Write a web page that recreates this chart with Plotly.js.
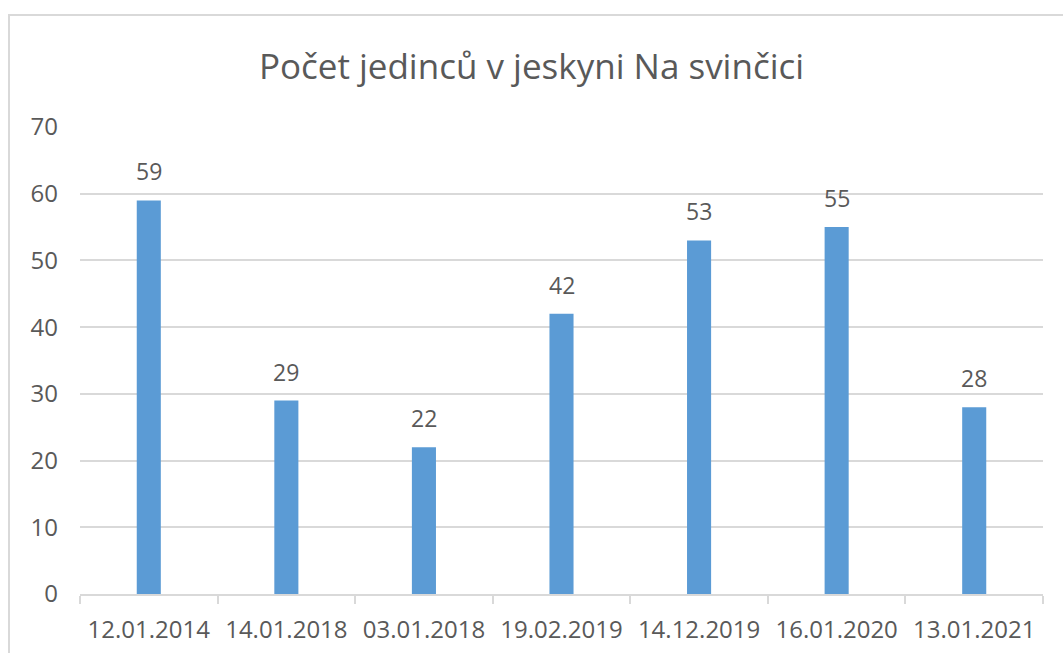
<!DOCTYPE html>
<html>
<head>
<meta charset="utf-8">
<script src="https://cdn.plot.ly/plotly-3.0.1.min.js"></script>
<style>html,body{margin:0;padding:0;background:#fff;}#chart{width:1063px;height:653px;}</style>
</head>
<body>
<div id="chart"></div>
<script>
const titleText = "Počet jedinců v jeskyni Na svinčici";
const dates = ["12.01.2014","14.01.2018","03.01.2018","19.02.2019","14.12.2019","16.01.2020","13.01.2021"];
const counts = [59, 29, 22, 42, 53, 55, 28];
const yTicks = [0, 10, 20, 30, 40, 50, 60, 70];

const FONT = "Open Sans, Noto Sans, sans-serif";
const GRAY = "#595959";
const GRID = "#D9D9D9";

const trace = {
  type: "bar",
  x: dates,
  y: counts,
  marker: {color: "#5B9BD5"},
  hoverinfo: "x+y"
};

const annotations = dates.map((d, i) => ({
  x: d, y: counts[i], xref: "x", yref: "y",
  text: String(counts[i]), showarrow: false,
  yanchor: "bottom", yshift: 11,
  font: {family: FONT, size: 23, color: GRAY}
}));

const layout = {
  width: 1063, height: 653,
  margin: {l: 80, r: 20, t: 127, b: 59},
  paper_bgcolor: "#fff", plot_bgcolor: "#fff",
  title: {text: titleText, font: {family: FONT, size: 35, color: GRAY}, x: 0.5, xanchor: "center", y: 0.898, yanchor: "middle"},
  bargap: 0.825,
  showlegend: false,
  xaxis: {
    type: "category",
    showgrid: false,
    showline: true, linecolor: GRID, linewidth: 2,
    ticks: "outside", tickson: "boundaries", ticklen: 8, tickcolor: GRID, tickwidth: 2,
    tickfont: {family: FONT, size: 24, color: GRAY},
    ticklabelstandoff: 13,
    fixedrange: true
  },
  yaxis: {
    range: [0, 70], tickvals: yTicks, ticktext: yTicks.map(String),
    showgrid: true, gridcolor: GRID, gridwidth: 2,
    zeroline: false, showline: false, ticks: "",
    tickfont: {family: FONT, size: 24, color: GRAY},
    ticklabelstandoff: 21,
    fixedrange: true
  },
  annotations: annotations,
  shapes: [{
    type: "rect", xref: "paper", yref: "paper",
    x0: (9 - 80) / 963, x1: 1.2, y0: -0.5, y1: (594 - 15) / 467,
    line: {color: GRID, width: 2}, fillcolor: "rgba(0,0,0,0)", layer: "below"
  }]
};

Plotly.newPlot("chart", [trace], layout, {displayModeBar: false, staticPlot: true});
</script>
</body>
</html>
